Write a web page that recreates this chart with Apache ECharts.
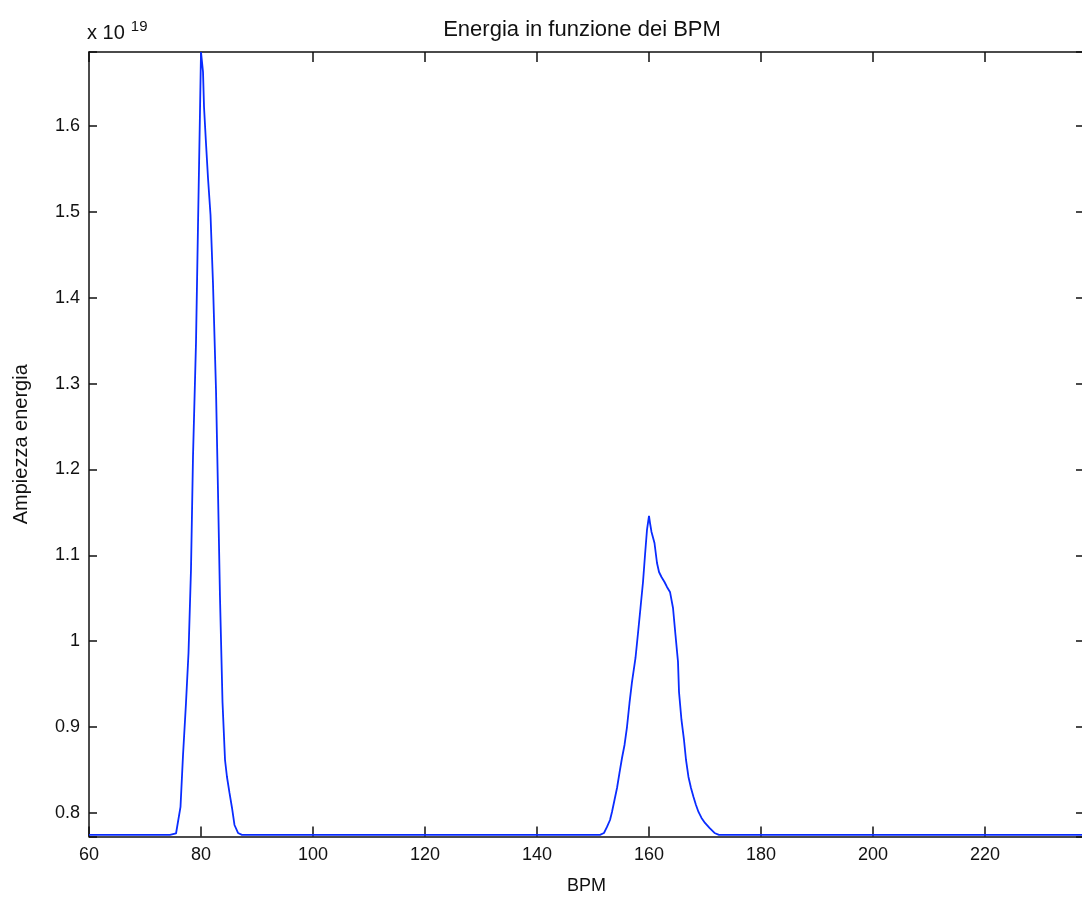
<!DOCTYPE html>
<html>
<head>
<meta charset="utf-8">
<title>Energia in funzione dei BPM</title>
<script src="https://cdn.jsdelivr.net/npm/echarts@6/dist/echarts.min.js"></script>
<style>
  html, body { margin: 0; padding: 0; background: #fff; }
  #chart { width: 1082px; height: 903px; }
</style>
</head>
<body>
<div id="chart"></div>
<script>
// Energia in funzione dei BPM (valori x 10^19)
const bpm = [
  60, 74.46, 75.54, 76.34, 76.79, 77.32, 77.77, 78.21, 78.57, 79.11, 79.46, 79.82, 80.00,
  80.36, 80.54, 80.89, 81.25, 81.70, 82.14, 82.68, 83.04, 83.39, 83.84, 84.29, 84.64,
  85.09, 85.54, 85.98, 86.61, 87.32,
  151.25, 151.96, 152.50, 153.04, 153.39, 153.84, 154.29, 154.73, 155.18, 155.63, 156.07,
  156.52, 156.96, 157.59, 158.04, 158.48, 158.93, 159.29, 159.64, 160.00,
  160.18, 160.45, 160.98, 161.43, 161.79, 162.23, 162.77, 163.21, 163.75, 164.29, 164.73,
  165.18, 165.36, 165.80, 166.25, 166.61, 167.05, 167.50, 167.95, 168.39, 168.84, 169.38,
  170.00, 170.80, 171.70, 172.50, 237.68
];
const energia = [
  0.7745, 0.7745, 0.7761, 0.8070, 0.8675, 0.9281, 0.9863, 1.0830, 1.2146, 1.3485, 1.4824, 1.6163, 1.6862,
  1.6629, 1.6221, 1.5802, 1.5394, 1.4964, 1.4172, 1.2926, 1.1726, 1.0515, 0.9293, 0.8617, 0.8419,
  0.8233, 0.8058, 0.7860, 0.7767, 0.7745,
  0.7745, 0.7767, 0.7837, 0.7918, 0.8012, 0.8151, 0.8291, 0.8466, 0.8640, 0.8792, 0.9001,
  0.9281, 0.9525, 0.9805, 1.0096, 1.0387, 1.0690, 1.1004, 1.1296, 1.1459,
  1.1377, 1.1273, 1.1144, 1.0911, 1.0806, 1.0748, 1.0690, 1.0632, 1.0574, 1.0387, 1.0073,
  0.9759, 0.9409, 0.9083, 0.8850, 0.8617, 0.8419, 0.8291, 0.8186, 0.8093, 0.8012, 0.7942,
  0.7884, 0.7826, 0.7767, 0.7745, 0.7745
];
const xTicks = [60, 80, 100, 120, 140, 160, 180, 200, 220];
const yTicks = [0.8, 0.9, 1, 1.1, 1.2, 1.3, 1.4, 1.5, 1.6];

const font = 'Liberation Sans, Arial, Helvetica, sans-serif';
const chart = echarts.init(document.getElementById('chart'));

const isTick = (v, list) => list.some(t => Math.abs(t - v) < 1e-6);

const xBase = {
  type: 'value',
  min: 60,
  max: 237.68,
  interval: 20,
  splitLine: { show: false },
  axisLine: { show: true, onZero: false, lineStyle: { color: '#111', width: 1.5 } },
  axisTick: { show: true, inside: true, length: 10, lineStyle: { color: '#111', width: 1.5 } }
};
const yBase = {
  type: 'value',
  min: 0.7726,
  max: 1.6862,
  splitNumber: 9,
  splitLine: { show: false },
  axisLine: { show: true, onZero: false, lineStyle: { color: '#111', width: 1.5 } },
  axisTick: { show: true, inside: true, length: 8, lineStyle: { color: '#111', width: 1.5 } }
};

const option = {
  animation: false,
  backgroundColor: '#fff',
  title: {
    text: 'Energia in funzione dei BPM',
    left: 577,
    top: 14,
    textAlign: 'center',
    textStyle: { fontFamily: font, fontSize: 22, fontWeight: 'normal', color: '#111' }
  },
  grid: { left: 89, right: -2, top: 52, bottom: 66.5, outerBoundsMode: 'none', containLabel: false },
  graphic: [{
    type: 'text',
    left: 87,
    top: 19,
    style: {
      text: 'x 10{s|19}',
      rich: { s: { fontSize: 15, verticalAlign: 'top', padding: [0, 0, 14, 6], fontFamily: font, fill: '#111' } },
      fontFamily: font,
      fontSize: 20,
      fill: '#111'
    }
  }],
  xAxis: [
    Object.assign({}, xBase, {
      position: 'bottom',
      name: 'BPM',
      nameLocation: 'middle',
      nameGap: 41,
      nameTextStyle: { fontFamily: font, fontSize: 18, color: '#111' },
      axisLabel: {
        show: true,
        margin: 10,
        fontFamily: font,
        fontSize: 18,
        color: '#111',
        formatter: v => isTick(v, xTicks) ? String(v) : ''
      }
    }),
    Object.assign({}, xBase, { position: 'top', axisLabel: { show: false } })
  ],
  yAxis: [
    Object.assign({}, yBase, {
      position: 'left',
      name: 'Ampiezza energia',
      nameLocation: 'middle',
      nameGap: 58,
      nameTextStyle: { fontFamily: font, fontSize: 20, color: '#111' },
      axisLabel: {
        show: true,
        margin: 9,
        fontFamily: font,
        fontSize: 18,
        color: '#111',
        formatter: v => isTick(v, yTicks) ? String(+v.toFixed(1)) : ''
      }
    }),
    Object.assign({}, yBase, { position: 'right', axisLabel: { show: false } })
  ],
  series: [{
    type: 'line',
    xAxisIndex: 0,
    yAxisIndex: 0,
    data: bpm.map((b, i) => [b, energia[i]]),
    showSymbol: false,
    symbol: 'none',
    lineStyle: { color: '#0a2cff', width: 1.8 },
    clip: true
  }]
};

chart.setOption(option);
</script>
</body>
</html>
